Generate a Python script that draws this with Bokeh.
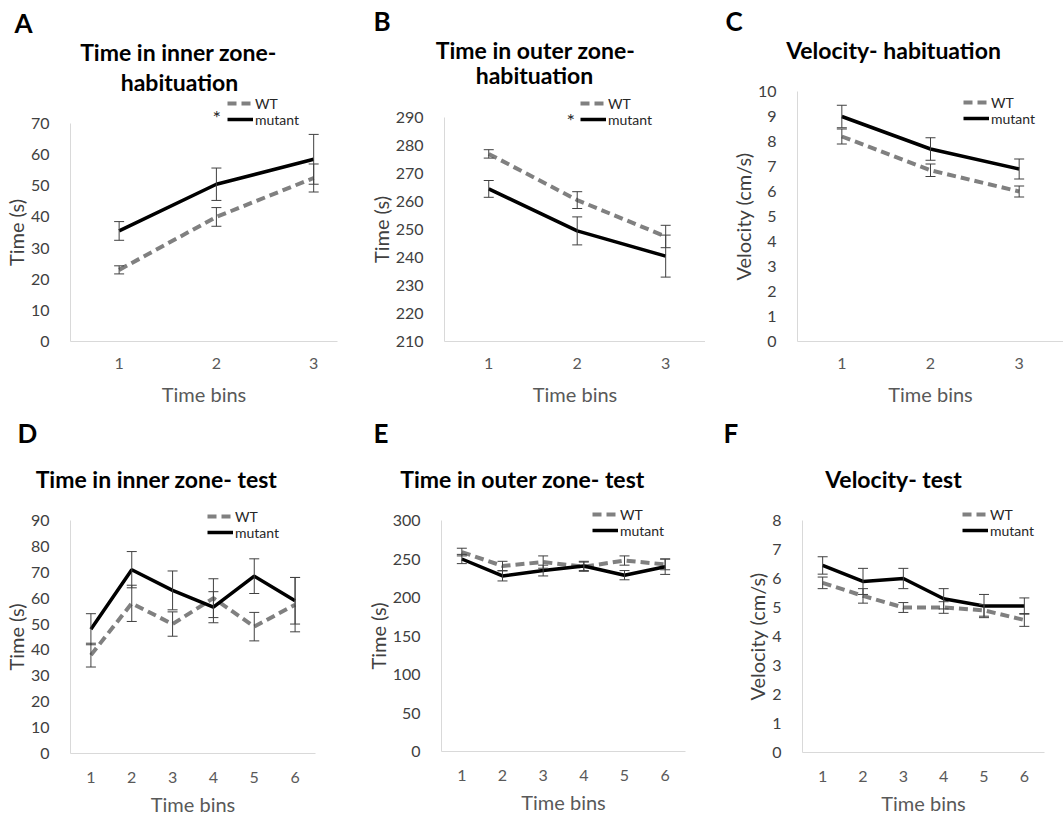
from bokeh.plotting import figure
from bokeh.models import (Range1d, FixedTicker, Label, Legend, LegendItem,
                          Whisker, TeeHead, ColumnDataSource)
from bokeh.layouts import column, row
from bokeh.embed import file_html
from bokeh.resources import INLINE

# ---------------- data ----------------
bins_hab = [1, 2, 3]
bins_test = [1, 2, 3, 4, 5, 6]

a_wt = [23.0, 40.0, 52.5]
a_wt_err = [1.3, 3.0, 4.5]
a_mut = [35.5, 50.5, 58.5]
a_mut_err = [3.0, 5.2, 8.0]

b_wt = [277.0, 260.5, 247.5]
b_wt_err = [1.5, 3.0, 4.0]
b_mut = [264.5, 249.5, 240.5]
b_mut_err = [3.0, 5.0, 7.5]

c_wt = [8.2, 6.85, 6.0]
c_wt_err = [0.3, 0.25, 0.22]
c_mut = [9.0, 7.7, 6.9]
c_mut_err = [0.45, 0.45, 0.4]

d_wt = [38.0, 58.0, 50.0, 60.0, 49.0, 57.5]
d_wt_err = [4.6, 7.0, 4.7, 7.5, 5.5, 10.5]
d_mut = [48.0, 71.0, 63.0, 56.5, 68.5, 59.0]
d_mut_err = [6.0, 7.0, 7.5, 6.0, 6.7, 9.0]

e_wt = [259.0, 241.0, 246.0, 240.0, 248.0, 243.0]
e_wt_err = [5.0, 6.0, 8.0, 6.0, 6.0, 7.0]
e_mut = [250.0, 228.0, 235.0, 241.0, 229.0, 240.0]
e_mut_err = [6.0, 6.5, 7.0, 6.0, 6.0, 10.0]

f_wt = [5.85, 5.4, 5.0, 5.0, 4.9, 4.57]
f_wt_err = [0.2, 0.25, 0.17, 0.2, 0.2, 0.22]
f_mut = [6.45, 5.9, 6.0, 5.3, 5.05, 5.05]
f_mut_err = [0.3, 0.45, 0.35, 0.35, 0.4, 0.28]

series_labels = ["WT", "mutant"]
x_title = "Time bins"

FONT = "Lato"
WT_COLOR = "#808080"
MUT_COLOR = "#000000"
ERR_COLOR = "#404040"
LEG_ITEM_H = 20


def make_panel(spec):
    figx, figy, W, H = spec["fig"]
    fl, ft, fr, fb = spec["frame"]          # page box of the data area
    x_lo, x_hi = spec["xr"]
    y_lo, y_hi = spec["yr"]
    xpp = (x_hi - x_lo) / (fr - fl)
    ypp = (y_hi - y_lo) / (fb - ft)
    xr = Range1d(x_lo - (fl - figx) * xpp, x_hi + (figx + W - fr) * xpp)
    yr = Range1d(y_lo - (figy + H - fb) * ypp, y_hi + (ft - figy) * ypp)

    p = figure(width=W, height=H, output_backend="svg", toolbar_location=None,
               x_range=xr, y_range=yr,
               min_border_left=0, min_border_right=0,
               min_border_top=0, min_border_bottom=0)
    p.outline_line_color = None
    p.grid.visible = False
    p.background_fill_color = "white"
    p.border_fill_color = "white"

    xs = spec["x"]
    for ax in (p.xaxis[0], p.yaxis[0]):
        ax.axis_line_color = "#d9d9d9"
        ax.axis_line_width = 1
        ax.major_tick_line_color = None
        ax.minor_tick_line_color = None
        ax.major_label_text_font = FONT
        ax.major_label_text_font_size = "16px"
        ax.axis_label_text_font = FONT
        ax.axis_label_text_font_style = "normal"
        ax.axis_label_text_font_size = "20px"
    p.xaxis.fixed_location = y_lo
    p.xaxis.bounds = spec.get("xb", (x_lo, x_hi))
    p.yaxis.fixed_location = x_lo
    p.yaxis.bounds = (y_lo, y_hi)
    p.xaxis.ticker = FixedTicker(ticks=xs)
    p.yaxis.ticker = FixedTicker(ticks=spec["yticks"])
    p.xaxis.major_label_text_color = "#595959"
    p.yaxis.major_label_text_color = "#404040"
    p.xaxis.axis_label = x_title
    p.xaxis.axis_label_text_color = "#595959"
    p.yaxis.axis_label = spec["ylabel"]
    p.yaxis.axis_label_text_color = "#404040"
    p.yaxis.major_label_standoff = 15
    p.yaxis.axis_label_standoff = 0
    p.xaxis.major_label_standoff = spec["xls"]
    p.xaxis.axis_label_standoff = spec["xas"]

    wt, wte, mut, mute = spec["data"]
    r_wt = p.line(xs, wt, line_color=WT_COLOR, line_width=4, line_dash="9 5")
    r_mut = p.line(xs, mut, line_color=MUT_COLOR, line_width=3.5)
    for m, e in ((wt, wte), (mut, mute)):
        src = ColumnDataSource(dict(x=xs, upper=[a + b for a, b in zip(m, e)],
                                    lower=[a - b for a, b in zip(m, e)]))
        w = Whisker(source=src, base="x", upper="upper", lower="lower",
                    line_color=ERR_COLOR, line_width=1, level="overlay",
                    upper_head=TeeHead(size=10, line_color=ERR_COLOR, line_width=1),
                    lower_head=TeeHead(size=10, line_color=ERR_COLOR, line_width=1))
        p.add_layout(w)

    def txt(px, py, text, size, bold=False, align="left", color="#000000"):
        # py is the wanted baseline on the page; compensate the renderer's text offset
        eff = py - 0.38 * size
        p.add_layout(Label(x=px - figx, y=figy + H - eff, x_units="screen", y_units="screen",
                           text=text, text_font=FONT, text_font_size=f"{size}px",
                           text_font_style="bold" if bold else "normal",
                           text_align=align, text_baseline="alphabetic",
                           text_color=color))

    lx, ly = spec["letter"]
    txt(lx, ly, spec["name"], 26, bold=True)
    for t, tx, ty in spec["titles"]:
        txt(tx, ty, t, 23, bold=True, align="center")
    if spec.get("star"):
        sx, sy = spec["star"]
        txt(sx, sy, "*", 20, color="#262626")

    # legend: one single-item legend per series, placed by its centre line
    leg_left, wt_center, mut_center = spec["legend"]
    for lab, rend, cy in ((series_labels[0], r_wt, wt_center),
                          (series_labels[1], r_mut, mut_center)):
        bottom = cy + LEG_ITEM_H / 2
        leg = Legend(items=[LegendItem(label=lab, renderers=[rend])],
                     location=(leg_left - figx, figy + H - bottom),
                     orientation="vertical", padding=0, margin=0, spacing=0,
                     glyph_width=26, glyph_height=LEG_ITEM_H, label_height=LEG_ITEM_H,
                     label_standoff=2, label_text_font=FONT,
                     label_text_font_size="14px", label_text_color="#262626",
                     border_line_alpha=0, background_fill_alpha=0)
        p.add_layout(leg)
    return p


specs = [
    dict(name="A", fig=(0, 0, 355, 410), frame=(70, 123, 355, 341), xr=(0.5, 3.43),
         xb=(0.5, 3.25),
         yr=(0, 70), yticks=list(range(0, 71, 10)), x=bins_hab, ylabel="Time (s)",
         data=(a_wt, a_wt_err, a_mut, a_mut_err), letter=(14, 32),
         titles=[("Time in inner zone-", 178, 60), ("habituation", 179, 90)],
         star=(212, 124), legend=(227, 103, 119), xls=10, xas=10),
    dict(name="B", fig=(355, 0, 350, 410), frame=(444, 117, 705, 341), xr=(0.5, 3.45),
         yr=(210, 290), yticks=list(range(210, 291, 10)), x=bins_hab, ylabel="Time (s)",
         data=(b_wt, b_wt_err, b_mut, b_mut_err), letter=(373, 30),
         titles=[("Time in outer zone-", 535, 58), ("habituation", 534, 83)],
         star=(566, 127), legend=(580, 103, 119), xls=10, xas=10),
    dict(name="C", fig=(705, 0, 358, 410), frame=(797, 91, 1063, 341), xr=(0.5, 3.5),
         yr=(0, 10), yticks=list(range(0, 11)), x=bins_hab, ylabel="Velocity (cm/s)",
         data=(c_wt, c_wt_err, c_mut, c_mut_err), letter=(725, 30),
         titles=[("Velocity- habituation", 893, 58)],
         star=None, legend=(963, 102, 118), xls=10, xas=10),
    dict(name="D", fig=(0, 410, 355, 406), frame=(70, 520, 315, 753), xr=(0.5, 6.5),
         yr=(0, 90), yticks=list(range(0, 91, 10)), x=bins_test, ylabel="Time (s)",
         data=(d_wt, d_wt_err, d_mut, d_mut_err), letter=(17, 442),
         titles=[("Time in inner zone- test", 156, 487)],
         star=None, legend=(207, 516, 532), xls=12, xas=6),
    dict(name="E", fig=(355, 410, 350, 406), frame=(441, 520, 685, 751), xr=(0.5, 6.5),
         yr=(0, 300), yticks=list(range(0, 301, 50)), x=bins_test, ylabel="Time (s)",
         data=(e_wt, e_wt_err, e_mut, e_mut_err), letter=(373, 442),
         titles=[("Time in outer zone- test", 522, 487)],
         star=None, legend=(592, 514, 530), xls=12, xas=6),
    dict(name="F", fig=(705, 410, 358, 406), frame=(802, 520, 1044, 752), xr=(0.5, 6.5),
         yr=(0, 8), yticks=list(range(0, 9)), x=bins_test, ylabel="Velocity (cm/s)",
         data=(f_wt, f_wt_err, f_mut, f_mut_err), letter=(723, 442),
         titles=[("Velocity- test", 893, 487)],
         star=None, legend=(962, 514, 530), xls=12, xas=6),
]

panels = [make_panel(s) for s in specs]
layout = column(row(*panels[:3], spacing=0), row(*panels[3:], spacing=0), spacing=0)

open("out.html", "w").write(file_html(layout, INLINE))
